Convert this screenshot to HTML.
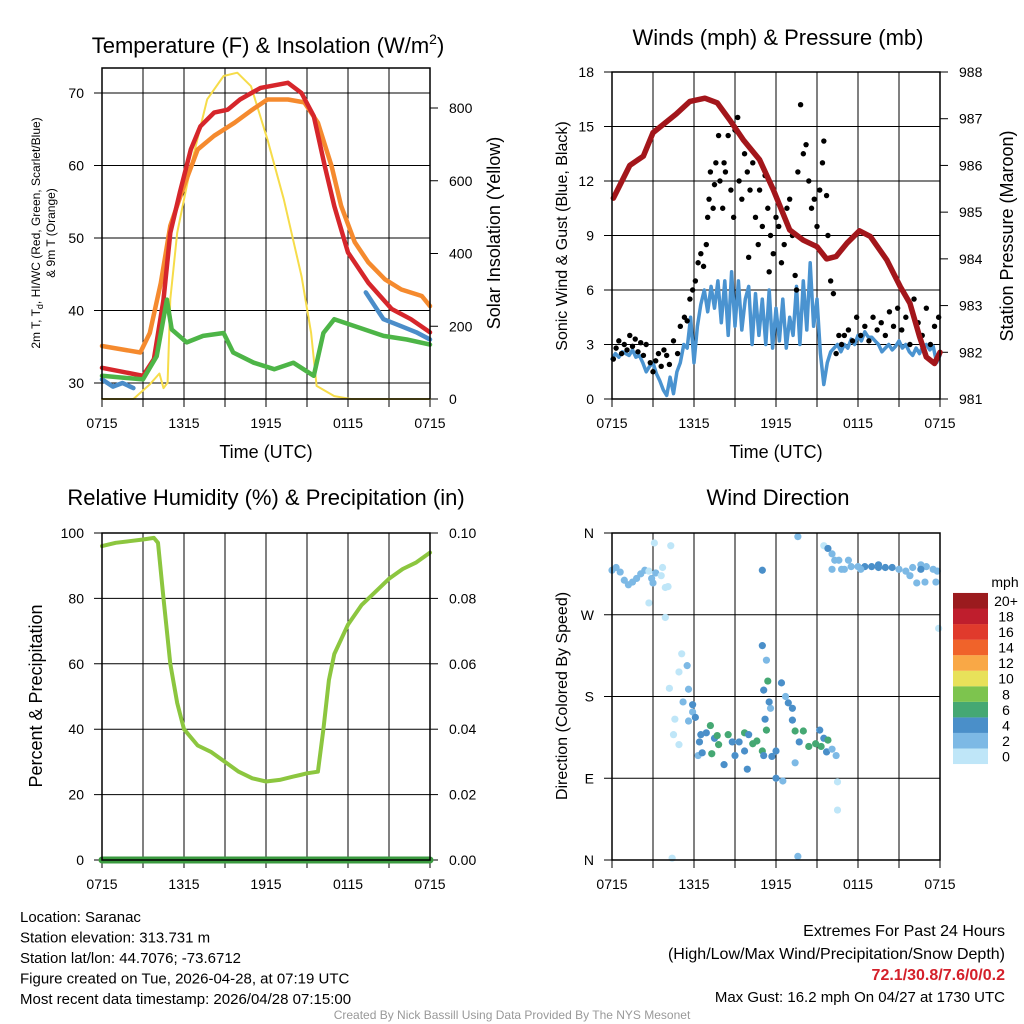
<!DOCTYPE html>
<html><head><meta charset="utf-8"><style>
body{margin:0;background:#fff;}
svg{display:block;font-family:"Liberation Sans",sans-serif;}
</style></head><body>
<svg id="c" width="1024" height="1024" viewBox="0 0 1024 1024"></svg>
<script>
// ---------- data ----------
const xTickLabels = ["0715","1315","1915","0115","0715"];
const redHours = [0,3,3.8,4.5,5,5.7,6.5,7.2,8.2,9.2,10.1,11.6,13.6,14.6,15.5,16.3,17,18,19.5,21.2,22.6,24];
const tempRed = [32.1,31,33.3,41.5,50.7,56.3,62.2,65.4,67.3,67.7,69.1,70.7,71.4,70,66.8,59.9,54.4,48,43.8,40.2,38.8,37];
const orangeHours = [0,2.8,3.5,4.3,5,6,7,8.2,9.7,11,12.1,13.6,14.8,15.8,16.8,17.5,18.5,19.5,20.7,21.9,23.4,24];
const temp9m = [35.1,34.2,36.9,43.8,51.7,57.2,62.2,64.1,65.9,67.7,69.1,69.1,68.7,65.9,59.9,54.4,49.4,46.6,44.3,42.9,42,40.6];
const greenHours = [0,3,4,4.75,5.1,6.2,7.4,8.9,9.6,11.1,12.6,14,15.5,16.2,17,18.4,20.6,22.3,24];
const dewpt = [31,30.5,33.7,41.5,37.4,35.6,36.5,36.9,34.2,32.8,31.9,32.8,31,36.9,38.8,37.9,36.5,36,35.3];
const wcHoursA = [0,0.8,1.5,2.3];
const wcA = [30.5,29.5,30,29.3];
const wcHoursB = [19.3,20.6,21.8,23,24];
const wcB = [42.5,38.8,37.9,37,36];
const solarHours = [0,2.3,3.5,4.2,4.5,4.8,5,5.5,6.5,7.7,8.9,9.9,10.9,12.1,13.3,14.6,15.3,15.7,17,18.2,24];
const solar = [0,0,40,70,30,45,274,457,640,824,888,897,860,714,549,338,182,36,8,0,0];
const tempTicks = [30,40,50,60,70];
const solarTicks = [0,200,400,600,800];

const presHours = [0.1,1.3,2.3,3,4.7,5.7,6.8,7.7,8.6,9.6,10.8,11.8,13,14,15,15.7,16.4,17.2,18.1,18.9,20.1,21.1,21.8,22.5,23,23.6,24];
const pressure = [985.3,986.0,986.2,986.7,987.1,987.37,987.44,987.34,986.98,986.55,986.12,985.48,984.62,984.4,984.26,984.0,984.05,984.34,984.6,984.48,983.98,983.4,983.05,982.34,981.9,981.76,982.0];
const wind = [2.2,2.5,2.3,2.6, 2.5,2.4,2.7,2.3, 2.4,2.0,1.5,1.8, 2.0,1.4,1.0,0.5, 0.2,1.2,0.3,1.5, 2.0,3.0,2.8,4.5, 2.0,4.0,5.2,6.0, 4.8,6.2,5.0,6.5, 4.2,6.5,3.5,7.0, 4.0,6.5,3.8,5.5, 6.2,3.0,5.8,3.5, 5.5,3.0,6.0,2.8, 5.0,3.2,5.5,2.8, 4.5,3.5,6.2,3.0, 6.5,3.8,7.5,4.0, 5.5,2.5,0.8,2.0, 2.6,2.8,3.0,2.6, 3.0,2.8,3.3,3.0, 3.5,3.2,3.7,3.4, 3.4,3.2,3.0,2.6, 2.8,3.0,2.7,2.9, 3.2,2.8,3.0,2.6, 2.4,2.8,2.5,2.9, 3.0,2.7,2.9,2.0, 2.4];
const windHours = wind.map((v, i) => i * 0.25);
const gustHours = [0.1,0.3,0.5,0.7,0.9,1.1,1.3,1.5,1.7,1.9,2.1,2.3,2.5,2.8,3.0,3.2,3.4,3.6,3.8,4.0,4.2,4.5,4.8,5.0,5.3,5.5,5.7,5.9,6.1,6.3,6.5,6.7,6.9,7.0,7.1,7.2,7.4,7.5,7.6,7.8,7.9,8.1,8.2,8.3,8.5,8.7,8.9,9.0,9.2,9.3,9.5,9.7,9.9,10.0,10.1,10.3,10.5,10.7,10.8,11.0,11.2,11.4,11.5,11.6,11.8,12.0,12.2,12.4,12.6,12.8,13.0,13.2,13.4,13.5,13.6,13.8,14.0,14.2,14.4,14.6,14.8,15.0,15.2,15.4,15.5,15.7,15.8,16.0,16.2,16.4,16.6,16.8,17.0,17.3,17.6,17.9,18.2,18.5,18.8,19.1,19.4,19.7,20.0,20.3,20.6,20.9,21.2,21.5,21.8,22.1,22.4,22.7,23.0,23.3,23.6,23.9];
const gust = [2.2,2.8,3.2,2.5,3.0,2.7,3.5,2.9,3.3,2.6,3.1,2.4,3.0,2.0,1.5,2.1,2.5,1.8,2.7,2.4,1.9,3.2,2.5,4.0,4.5,4.3,5.5,6.0,6.5,7.5,8.0,7.3,8.5,10.0,11.0,12.5,10.5,11.8,13.0,14.5,12.0,10.5,13.0,12.5,14.5,11.5,10.0,14.8,15.5,12.0,11.0,13.5,12.5,7.8,11.5,13.0,10.0,8.5,11.5,9.5,12.3,10.5,7.0,9.0,8.0,10.0,9.5,7.5,8.5,10.5,11.0,9.0,6.8,6.0,12.5,16.2,13.5,14.0,12.0,10.5,11.0,9.5,11.5,13.0,14.2,11.2,9.0,6.5,5.8,2.5,3.5,3.0,3.5,3.8,3.2,4.5,3.5,4.0,3.2,4.5,3.8,4.2,3.5,4.8,4.0,5.0,3.8,4.5,3.0,5.5,4.2,3.5,5.0,3.0,4.0,4.5];
const windTicks = [0,3,6,9,12,15,18];
const presTicks = [981,982,983,984,985,986,987,988];

const rhHours = [0,1,2,3,3.8,4.1,4.5,5,5.5,6,7,8,9,10,11,12,13,14,14.5,15,15.8,16.2,16.6,17,18,19,20,21,22,23,24];
const rh = [96,97,97.5,98,98.5,97,80,60,48,40,35,33,30,27,25,24,24.5,25.5,26,26.5,27,40,55,63,72,78,82,86,89,91,94];
const precipHours = [0,24];
const precip = [0,0];
const rhTicks = [0,20,40,60,80,100];
const precipTicks = ["0.00","0.02","0.04","0.06","0.08","0.10"];

const dirHours = [0,0.3,0.6,0.9,1.2,1.5,1.8,2.1,2.4,2.7,2.9,3.0,3.2,3.6,3.9,4.1,3.1,4.3,2.7,3.9,3.7,5.1,4.9,5.5,5.6,4.2,5.2,5.9,4.6,5.6,4.5,4.9,5.9,6.1,6.5,6.4,6.9,7.2,7.5,7.7,7.8,6.3,6.6,7.3,8.2,8.5,8.8,9.0,9.3,9.7,9.7,10.3,10.6,9.9,10.0,11.0,11.3,11.1,11.7,12.0,11.4,11.2,11.6,11.5,11.1,12.4,12.9,13.2,12.7,13.2,13.4,14.0,13.7,14.4,14.9,15.2,15.5,15.3,15.8,15.7,16.1,16.4,12.0,12.5,13.4,16.5,16.5,11.0,11.0,11.3,13.6,4.4,13.6,15.5,15.8,16.1,16.3,16.6,16.1,17,17.5,18,18.5,19,19.5,20,20.5,21,21.5,22,22.6,23,23.5,23.8,21.8,22.3,22.9,23.7,22.6,23.9,19.5,16.8,17.3,18.2];
const dirDeg = [319,322,317,308,303,306,310,315,319,318,310,305,316,313,300,301,349,346,283,267,322,227,207,214,188,189,174,171,155,153,138,127,163,157,138,130,140,148,134,137,127,115,118,117,105,138,130,115,130,120,140,128,131,100,138,120,143,115,114,120,197,155,167,174,187,195,173,167,180,154,142,142,130,125,128,143,134,125,132,119,122,115,90,87,107,86,55,319,236,220,356,2,4,346,343,337,330,330,320,320,323,323,323,323,322,322,322,320,318,322,325,323,320,318,313,305,306,306,320,255,325,320,330,320];
const dirSpeed = [2,2,2,2,2,2,2,2,2,1,2,2,2,1,1,0,1,1,1,0,1,1,0,2,2,0,2,4,0,2,0,0,2,4,4,4,4,6,4,6,6,2,4,6,4,6,4,4,4,4,6,6,6,4,4,6,6,4,4,4,6,4,2,4,4,4,4,4,2,4,6,6,4,6,6,4,4,6,6,4,2,2,4,2,2,1,0,4,4,2,2,0,2,0,4,2,2,2,2,2,2,2,4,4,4,4,4,2,2,2,2,2,2,2,2,2,2,2,4,1,4,2,2,2];
const dirLabels = ["N","E","S","W","N"];
const speedLabels = ["0","2","4","6","8","10","12","14","16","18","20+"];
const speedColors = ["#bfe6f8","#7db9e5","#4a8fc9","#45a873","#7dc44e","#e8e15a","#f9a846","#f0632a","#e03a2c","#bf1e2d","#9b1b1e"];

// ---------- helpers ----------
const NS = "http://www.w3.org/2000/svg";
const svg = document.getElementById("c");
function mk(tag, attrs, parent) {
  const e = document.createElementNS(NS, tag);
  for (const k in attrs) e.setAttribute(k, attrs[k]);
  (parent || svg).appendChild(e);
  return e;
}
function txt(s, x, y, size, anchor, parent, extra) {
  const t = mk("text", Object.assign({x: x, y: y, "font-size": size, "text-anchor": anchor || "middle", fill: "#000"}, extra || {}), parent);
  t.textContent = s;
  return t;
}
function panel(x0, y0, x1, y1) {
  return {x0, y0, x1, y1, sx: h => x0 + h / 24 * (x1 - x0)};
}
function lin(d0, d1, p0, p1) { return v => p0 + (v - d0) / (d1 - d0) * (p1 - p0); }
function pathFrom(xs, ys, sx, sy) {
  return xs.map((h, i) => (i ? "L" : "M") + sx(h).toFixed(1) + "," + sy(ys[i]).toFixed(1)).join("");
}
function frame(P, g) {
  for (let i = 1; i < 8; i++) {
    const x = P.sx(i * 3);
    const l = mk("line", {x1: x, x2: x, y1: P.y0, y2: P.y1, stroke: "#000", "stroke-width": 1}, g);
    
    
  }
  for (let i = 0; i <= 8; i++) {
    const x = P.sx(i * 3);
    const tk = mk("line", {x1: x, x2: x, y1: P.y1, y2: P.y1 + 8, stroke: "#000", "stroke-width": 1}, g);
    
    
  }
  xTickLabels.forEach((s, i) => {
    const t = txt(s, P.sx(i * 6), P.y1 + 29, 14, "middle", g);
    
    
  });
}
function border(P, g) {
  const r = mk("rect", {x: P.x0, y: P.y0, width: P.x1 - P.x0, height: P.y1 - P.y0, fill: "none", stroke: "#000", "stroke-width": 1.5}, g);
  
  
}
function hgrid(P, ticks, sy, g, labels, side) {
  ticks.forEach((v, i) => {
    const y = sy(v);
    if (side === "left") {
      const l = mk("line", {x1: P.x0 - 8, x2: P.x1, y1: y, y2: y, stroke: "#000", "stroke-width": 1}, g);
      
      
      const t = txt(labels ? labels[i] : v, P.x0 - 18, y + 5, 14, "end", g);
      
      
    } else {
      const l = mk("line", {x1: P.x1, x2: P.x1 + 8, y1: y, y2: y, stroke: "#000", "stroke-width": 1}, g);
      
      
      const t = txt(labels ? labels[i] : v, P.x1 + 19, y + 5, 14, "start", g);
      
      
    }
  });
}
function line(g, xs, ys, sx, sy, color, w, name) {
  const p = mk("path", {d: pathFrom(xs, ys, sx, sy), fill: "none", stroke: color, "stroke-width": w, "stroke-linejoin": "round", "stroke-linecap": "round"}, g);
  
  
}
function rotLabel(s, x, y, size, g, name) {
  const t = txt(s, x, y, size, "middle", g, {transform: "rotate(-90 " + x + " " + y + ")"});
  
  
  return t;
}

// ---------- panel 1: temperature ----------
(function(){
  const g = mk("g", {});
  
  
  const P = panel(102, 68, 430, 399);
  const sy = lin(30, 70, 383, 93);
  const sy2 = lin(0, 800, 399, 108);
  frame(P, g);
  hgrid(P, tempTicks, sy, g, null, "left");
  hgrid(P, solarTicks, sy2, g, null, "right");
  line(g, solarHours, solar, P.sx, sy2, "#f6dc4a", 2, "solar-insolation-line");
  line(g, orangeHours, temp9m, P.sx, sy, "#f58a2e", 4.5, "temp-9m-line");
  line(g, redHours, tempRed, P.sx, sy, "#d6262b", 4.5, "temp-2m-line");
  line(g, wcHoursA, wcA, P.sx, sy, "#4b8dc9", 4.5, "windchill-line-early");
  line(g, wcHoursB, wcB, P.sx, sy, "#4b8dc9", 4.5, "windchill-line-late");
  line(g, greenHours, dewpt, P.sx, sy, "#4db547", 4.5, "dewpoint-line");
  border(P, g);
  const t = mk("text", {x: 268, y: 53, "font-size": 22, "text-anchor": "middle"}, g);
  
  
  t.innerHTML = 'Temperature (F) &amp; Insolation (W/m<tspan dy="-9" font-size="14">2</tspan><tspan dy="9">)</tspan>';
  const xt = txt("Time (UTC)", 266, 458, 18, "middle", g);
  
  
  const yl = mk("text", {x: 40, y: 233, "font-size": 12, "text-anchor": "middle", transform: "rotate(-90 40 233)"}, g);
  
  
  yl.innerHTML = '2m T, T<tspan dy="3" font-size="9">d</tspan><tspan dy="-3">, HI/WC (Red, Green, Scarlet/Blue)</tspan>';
  const yl2 = txt("& 9m T (Orange)", 55, 233, 12, "middle", g, {transform: "rotate(-90 55 233)"});
  
  
  rotLabel("Solar Insolation (Yellow)", 500, 233, 18, g, "y2-axis-title");
})();

// ---------- panel 2: winds ----------
(function(){
  const g = mk("g", {});
  
  
  const P = panel(612, 72, 940, 399);
  const sy = lin(0, 18, 399, 72);
  const sy2 = lin(981, 988, 399, 72);
  frame(P, g);
  hgrid(P, windTicks, sy, g, null, "left");
  hgrid(P, presTicks, sy2, g, null, "right");
  line(g, windHours, wind, P.sx, sy, "#4a93d0", 3.5, "sonic-wind-line");
  gustHours.forEach((h, i) => {
    const c = mk("circle", {cx: P.sx(h), cy: sy(gust[i]), r: 2.7, fill: "#000"}, g);
    
    
  });
  line(g, presHours, pressure, P.sx, sy2, "#a3161b", 5.5, "pressure-line");
  border(P, g);
  const t = txt("Winds (mph) & Pressure (mb)", 778, 45, 22, "middle", g);
  
  
  const xt = txt("Time (UTC)", 776, 458, 18, "middle", g);
  
  
  rotLabel("Sonic Wind & Gust (Blue, Black)", 567, 236, 16, g, "y-axis-title");
  rotLabel("Station Pressure (Maroon)", 1013, 236, 18, g, "y2-axis-title");
})();

// ---------- panel 3: RH ----------
(function(){
  const g = mk("g", {});
  
  
  const P = panel(102, 533, 430, 860);
  const sy = lin(0, 100, 860, 533);
  const sy2 = lin(0, 0.1, 860, 533);
  frame(P, g);
  hgrid(P, rhTicks, sy, g, null, "left");
  hgrid(P, [0,0.02,0.04,0.06,0.08,0.1], sy2, g, precipTicks, "right");
  line(g, rhHours, rh, P.sx, sy, "#8cc63f", 4, "relative-humidity-line");
  line(g, precipHours, precip, P.sx, sy2, "#3a9a3f", 7, "precipitation-line");
  border(P, g);
  const t = txt("Relative Humidity (%) & Precipitation (in)", 266, 505, 22, "middle", g);
  
  
  rotLabel("Percent & Precipitation", 42, 696, 18, g, "y-axis-title");
})();

// ---------- panel 4: wind direction ----------
(function(){
  const g = mk("g", {});
  
  
  const P = panel(612, 533, 940, 860);
  const sy = lin(0, 360, 860, 533);
  frame(P, g);
  hgrid(P, [0,90,180,270,360], sy, g, dirLabels, "left");
  dirHours.forEach((h, i) => {
    const idx = Math.min(10, Math.floor(dirSpeed[i] / 2));
    const c = mk("circle", {cx: P.sx(h), cy: sy(dirDeg[i]), r: 3.6, fill: speedColors[idx]}, g);
    
    
  });
  border(P, g);
  const t = txt("Wind Direction", 778, 505, 22, "middle", g);
  
  
  rotLabel("Direction (Colored By Speed)", 567, 696, 16, g, "y-axis-title");
  const lt = txt("mph", 1005, 587, 14, "middle", g);
  
  
  speedLabels.forEach((s, i) => {
    const y = 764 - (i + 1) * 15.55;
    const r = mk("rect", {x: 953, y: y, width: 35, height: 15.6, fill: speedColors[i]}, g);
    
    
    const l = txt(s, 1006, y + 13, 14, "middle", g);
    
    
  });
})();

// ---------- footer ----------
(function(){
  const g = mk("g", {});
  
  
  const left = ["Location: Saranac","Station elevation: 313.731 m","Station lat/lon: 44.7076; -73.6712","Figure created on Tue, 2026-04-28, at 07:19 UTC","Most recent data timestamp: 2026/04/28 07:15:00"];
  left.forEach((s, i) => {
    const t = txt(s, 20, 922 + i * 20.5, 15, "start", g);
    
    
  });
  const r1 = txt("Extremes For Past 24 Hours", 1005, 936, 16, "end", g);
  
  
  const r2 = txt("(High/Low/Max Wind/Precipitation/Snow Depth)", 1005, 959, 16, "end", g);
  
  
  const r3 = txt("72.1/30.8/7.6/0/0.2", 1005, 980, 16, "end", g, {fill: "#d4202a", "font-weight": "bold"});
  
  
  const r4 = txt("Max Gust: 16.2 mph On 04/27 at 1730 UTC", 1005, 1002, 15, "end", g);
  
  
  const c = txt("Created By Nick Bassill Using Data Provided By The NYS Mesonet", 512, 1019, 12, "middle", g, {fill: "#999"});
  
  
})();
</script>
</body></html>
